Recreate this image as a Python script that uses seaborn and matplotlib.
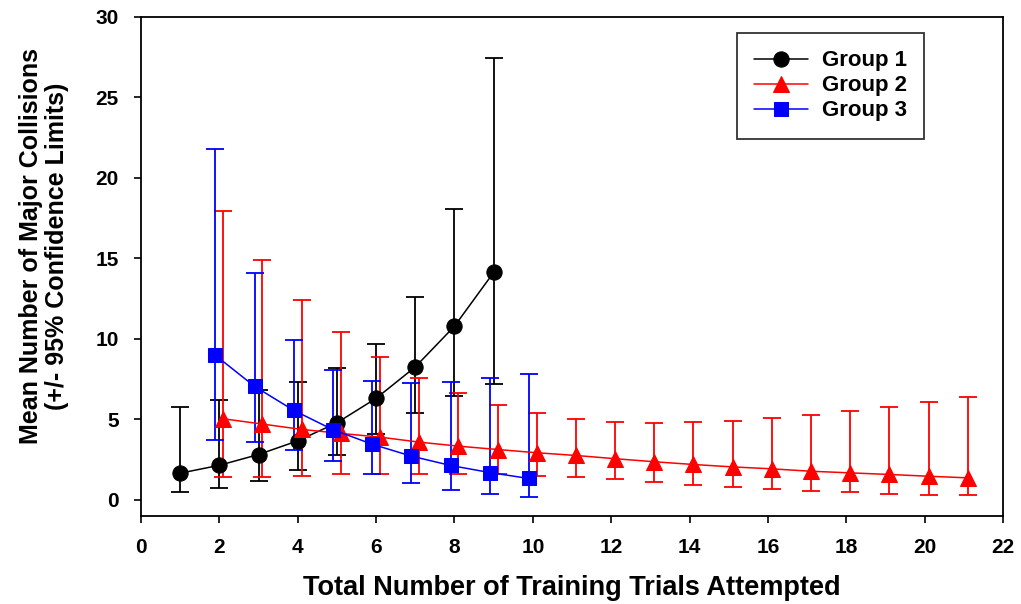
import numpy as np
import pandas as pd
import matplotlib
matplotlib.use("Agg")
import matplotlib.pyplot as plt
import seaborn as sns

# ---- data ----
g1_trials = [1, 2, 3, 4, 5, 6, 7, 8, 9]
g1_mean = [1.66, 2.15, 2.82, 3.67, 4.79, 6.31, 8.26, 10.79, 14.13]
g1_low = [0.47, 0.75, 1.16, 1.84, 2.82, 4.07, 5.39, 6.43, 7.22]
g1_high = [5.8, 6.2, 6.8, 7.3, 8.2, 9.69, 12.58, 18.06, 27.48]

g2_trials = list(range(2, 22))
g2_mean = [5.04, 4.71, 4.38, 4.13, 3.90, 3.59, 3.34, 3.13, 2.93, 2.76,
           2.56, 2.37, 2.20, 2.05, 1.93, 1.78, 1.68, 1.58, 1.47, 1.37]
g2_low = [1.41, 1.45, 1.51, 1.58, 1.62, 1.64, 1.64, 1.60, 1.51, 1.41,
          1.27, 1.10, 0.95, 0.83, 0.70, 0.58, 0.47, 0.39, 0.33, 0.29]
g2_high = [17.93, 14.9, 12.43, 10.46, 8.86, 7.6, 6.62, 5.87, 5.37, 5.02,
           4.86, 4.79, 4.83, 4.92, 5.06, 5.27, 5.5, 5.75, 6.06, 6.37]

g3_trials = [2, 3, 4, 5, 6, 7, 8, 9, 10]
g3_mean = [8.98, 7.05, 5.56, 4.36, 3.46, 2.72, 2.14, 1.70, 1.33]
g3_low = [3.71, 3.57, 3.13, 2.40, 1.64, 1.03, 0.62, 0.37, 0.21]
g3_high = [21.81, 14.11, 9.96, 8.09, 7.41, 7.24, 7.32, 7.55, 7.82]

group_names = ["Group 1", "Group 2", "Group 3"]
x_ticks = list(range(0, 23, 2))
y_ticks = [0, 5, 10, 15, 20, 25, 30]

sns.set_style("ticks")
plt.rcParams["font.family"] = ["Liberation Sans", "DejaVu Sans"]
plt.rcParams["font.weight"] = "bold"
for k in ["text.color", "axes.labelcolor", "xtick.color", "ytick.color",
          "axes.edgecolor"]:
    plt.rcParams[k] = "black"

fig = plt.figure(figsize=(10.21, 6.04), dpi=100)
ax = fig.add_axes([141 / 1021, 1 - 516 / 604, (1003 - 141) / 1021, (516 - 17) / 604])

groups = [
    (g1_trials, g1_mean, g1_low, g1_high, "black", "o", 0.0, 11),
    (g2_trials, g2_mean, g2_low, g2_high, "#ff0000", "^", 0.1, 11),
    (g3_trials, g3_mean, g3_low, g3_high, "#0000ff", "s", -0.1, 9.5),
]

for name, (tr, m, lo, hi, col, mk, dodge, ms) in zip(group_names, groups):
    xs = np.array(tr, dtype=float) + dodge
    m = np.array(m)
    yerr = [m - np.array(lo), np.array(hi) - m]
    ax.errorbar(xs, m, yerr=yerr, fmt="none", ecolor=col, elinewidth=1.3,
                capsize=6.5, capthick=1.3, zorder=2)
    df = pd.DataFrame({"x": xs, "y": m})
    sns.lineplot(data=df, x="x", y="y", ax=ax, color=col, marker=mk,
                 markersize=ms, markeredgecolor=col, linewidth=1.1,
                 label=name, zorder=3)

ax.set_xlim(0, 22)
ax.set_ylim(-1, 30)
ax.set_xticks(x_ticks)
ax.set_yticks(y_ticks)
ax.tick_params(axis="both", direction="out", length=5, width=1.2,
               labelsize=15)
ax.tick_params(axis="x", pad=10.5)
ax.tick_params(axis="y", pad=11)
for lab in ax.get_xticklabels() + ax.get_yticklabels():
    lab.set_fontweight("bold")
for sp in ax.spines.values():
    sp.set_visible(True)
    sp.set_linewidth(1.3)
    sp.set_color("black")

ax.set_xlabel("Total Number of Training Trials Attempted", fontsize=19.5,
              fontweight="bold", va="center")
ax.xaxis.set_label_coords(0.5, (516 - 588) / 499)
ax.set_ylabel("Mean Number of Major Collisions\n(+/- 95% Confidence Limits)",
              fontsize=18, fontweight="bold", va="center", ha="center",
              linespacing=1.15)
ax.yaxis.set_label_coords((44 - 141) / 862, (516 - 246) / 499)

leg = ax.legend(loc="upper left", bbox_to_anchor=((737 - 141) / 862, (516 - 33) / 499),
                frameon=True, fancybox=False, edgecolor="black",
                prop={"weight": "bold", "size": 16}, handlelength=2.4,
                borderpad=0.78, labelspacing=0.18, handletextpad=0.63,
                borderaxespad=0)
leg.get_frame().set_linewidth(1.3)
for t in leg.get_texts():
    t.set_color("black")

fig.savefig("out.png", dpi=100)
